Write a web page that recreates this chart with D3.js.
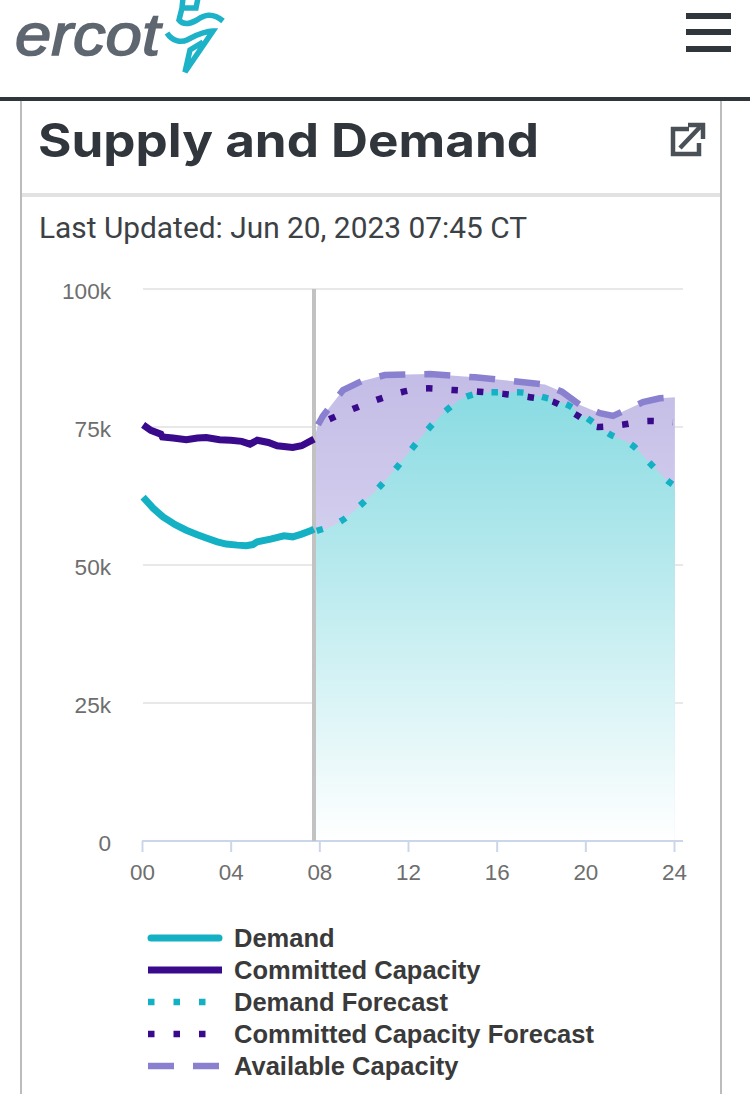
<!DOCTYPE html>
<html>
<head>
<meta charset="utf-8">
<script src="https://cdn.jsdelivr.net/npm/d3@7"></script>
<style>
html,body{margin:0;padding:0;background:#fff;overflow:hidden}
svg{display:block}
</style>
</head>
<body>
<svg id="c" width="750" height="1094"></svg>
<script>
const yTicks = [0, 25, 50, 75, 100];
const xTicks = [0, 4, 8, 12, 16, 20, 24];
const nowHour = 7.76;

const demandHours = [0.05,0.5,0.95,1.5,2,2.5,2.9,3.4,3.8,4.3,4.7,5,5.2,5.8,6.4,6.8,7.2,7.66,7.76];
const demandValues = [62.3,60.3,58.7,57.3,56.3,55.5,54.9,54.2,53.8,53.6,53.5,53.7,54.2,54.7,55.3,55.1,55.6,56.3,56.5];

const committedHours = [0.05,0.4,0.85,0.92,1.4,2,2.5,2.9,3.5,4,4.5,4.87,5.2,5.7,6.1,6.8,7.2,7.76];
const committedValues = [75.4,74.4,73.7,73.2,73.0,72.7,73.0,73.1,72.7,72.6,72.4,71.9,72.6,72.2,71.6,71.3,71.6,72.8];

const demandAreaHours = [7.76,7.88,9.0,9.9,10.7,11.5,12.2,12.95,13.75,14.7,15.8,16.95,18.1,19.2,20.15,21.1,22.15,22.95,23.8,24.04];
const demandAreaValues = [56.4,56.2,58,61,64.1,67.7,71.2,74.8,78.1,80.6,81.3,81.3,80.4,79,76.4,73.7,71.6,68.3,65,64.3];

const committedForecastHours = [8.45,9.6,10.65,11.7,12.9,14.0,15.2,16.3,17.5,18.6,19.6,20.6,21.65,22.85,23.95];
const committedForecastValues = [76.4,78.4,80,81.3,82,81.7,81.4,81,80.4,79.5,77.2,75,75.4,76.1,75.9];

const availableHours = [7.76,7.94,8.16,9.07,9.9,10.96,12.99,15.02,17,18.18,18.94,19.76,20.66,21.25,22.6,23.36,24.04];
const availableValues = [72.8,75.4,77,81.7,83.3,84.4,84.6,84,83.2,82.7,81.4,79,77.5,77.0,79.5,80.2,80.4];

const legendLabels = ["Demand","Committed Capacity","Demand Forecast","Committed Capacity Forecast","Available Capacity"];

const teal = "#14b1c4", indigo = "#3a0a8c", lavender = "#8a80d0";

const svg = d3.select("#c");
const x = d3.scaleLinear().domain([0, 24.406]).range([142, 683]);
const y = d3.scaleLinear().domain([0, 100]).range([841, 289]);

const zip = (h, v) => h.map((d, i) => [d, v[i]]);
const lineGen = d3.line().x(d => x(d[0])).y(d => y(d[1]));
const smooth = d3.line().x(d => x(d[0])).y(d => y(d[1])).curve(d3.curveMonotoneX);
const areaGen = d3.area().x(d => x(d[0])).y0(y(0)).y1(d => y(d[1])).curve(d3.curveMonotoneX);
const areaLinear = d3.area().x(d => x(d[0])).y0(y(0)).y1(d => y(d[1]));

/* page chrome */
svg.append("rect").attr("x",20).attr("y",100).attr("width",2).attr("height",994).attr("fill","#bcbcbc");
svg.append("rect").attr("x",720).attr("y",100).attr("width",2).attr("height",994).attr("fill","#bcbcbc");
svg.append("rect").attr("x",0).attr("y",97).attr("width",750).attr("height",4).attr("fill","#2f363c");
svg.append("rect").attr("x",22).attr("y",193).attr("width",698).attr("height",4).attr("fill","#e2e2e2");

svg.append("text").text("ercot").attr("x",15).attr("y",55)
  .attr("font-family","Liberation Sans").attr("font-style","italic").attr("font-size",60)
  .attr("stroke","#5e6670").attr("stroke-width",1.6)
  .attr("textLength",145).attr("lengthAdjust","spacingAndGlyphs").attr("fill","#5e6670");
svg.append("path")
  .attr("d","M198,-2 L196,8 L182,8 L179,20 C183,25 190,24 197,20 C204,15 212,12 223,21 M183,-2 L182,8")
  .attr("fill","none").attr("stroke","#1eb2c8").attr("stroke-width",5.5);
svg.append("path")
  .attr("d","M167,33 C172,41 181,43 187,40 C195,36 203,31 213,31 L185,72 L190,50 L203,42")
  .attr("fill","none").attr("stroke","#1eb2c8").attr("stroke-width",5.5).attr("stroke-linejoin","miter");
[13,29,46].forEach(t => svg.append("rect").attr("x",686).attr("y",t).attr("width",45).attr("height",6).attr("fill","#2f363c"));

svg.append("text").text("Supply and Demand").attr("x",38).attr("y",157)
  .attr("font-family","Inter").attr("font-weight",700).attr("font-size",46)
  .attr("textLength",501).attr("lengthAdjust","spacingAndGlyphs").attr("fill","#30363c");
svg.append("path")
  .attr("d","M689,129 H673 V154 H699 V143 M680,148 L700,127 M688,125 H703 V139")
  .attr("fill","none").attr("stroke","#4a5058").attr("stroke-width",4.5);

svg.append("text").text("Last Updated: Jun 20, 2023 07:45 CT").attr("x",39).attr("y",238)
  .attr("font-family","Roboto").attr("font-size",29)
  .attr("textLength",488).attr("lengthAdjust","spacingAndGlyphs").attr("fill","#3c4146");

/* gradients */
const defs = svg.append("defs");
const grad = (id, y1, y2, c1, c2) => {
  const g = defs.append("linearGradient").attr("id",id).attr("gradientUnits","userSpaceOnUse")
    .attr("x1",0).attr("x2",0).attr("y1",y1).attr("y2",y2);
  g.append("stop").attr("offset",0).attr("stop-color",c1);
  g.append("stop").attr("offset",1).attr("stop-color",c2);
};
grad("gPurple", y(85), y(55), "#c3bce6", "#d3cfee");
grad("gTeal", y(82), y(0), "#88dbe2", "#ffffff");

/* y axis and grid */
const yAxis = d3.axisLeft(y).tickValues(yTicks).tickSize(0).tickPadding(31)
  .tickFormat(d => d === 0 ? "0" : d + "k");
const gy = svg.append("g").attr("transform", `translate(${x(0)},0)`).call(yAxis);
gy.select(".domain").remove();
gy.selectAll("text").attr("font-family","Liberation Sans").attr("font-size",22.6).attr("fill","#6e6e6e").attr("dy","9px");
svg.append("g").selectAll("line").data(yTicks.filter(d => d > 0)).join("line")
  .attr("x1",x(0)+1).attr("x2",x.range()[1]).attr("y1",d => y(d)).attr("y2",d => y(d))
  .attr("stroke","#e8e8e8").attr("stroke-width",2);

/* areas */
svg.append("path").datum(zip(availableHours, availableValues)).attr("d",areaLinear).attr("fill","url(#gPurple)");
svg.append("path").datum(zip(demandAreaHours, demandAreaValues)).attr("d",areaGen).attr("fill","url(#gTeal)");

/* x axis */
const xAxis = d3.axisBottom(x).tickValues(xTicks).tickSize(11).tickPadding(12)
  .tickFormat(d => String(d).padStart(2,"0"));
const gx = svg.append("g").attr("transform",`translate(0,${y(0)})`).call(xAxis);
gx.select(".domain").attr("stroke","#ccd6eb").attr("stroke-width",2).attr("d",`M${x.range()[0]},0H${x.range()[1]}`);
gx.selectAll("line").attr("stroke","#ccd6eb").attr("stroke-width",2);
gx.selectAll("text").attr("font-family","Liberation Sans").attr("font-size",22.4).attr("fill","#6e6e6e");

/* current time line */
svg.append("line").attr("x1",x(nowHour)).attr("x2",x(nowHour)).attr("y1",y(100)).attr("y2",y(0))
  .attr("stroke","#c2c2c2").attr("stroke-width",4);

/* lines */
svg.append("path").datum(zip(availableHours, availableValues).slice(1)).attr("d",lineGen)
  .attr("fill","none").attr("stroke",lavender).attr("stroke-width",6.5).attr("stroke-dasharray","26 19").attr("stroke-dashoffset",8);
svg.append("path").datum(zip(committedForecastHours, committedForecastValues)).attr("d",smooth)
  .attr("fill","none").attr("stroke",indigo).attr("stroke-width",6.5).attr("stroke-dasharray","6.5 19");
svg.append("path").datum(zip(demandAreaHours, demandAreaValues).slice(1)).attr("d",smooth)
  .attr("fill","none").attr("stroke",teal).attr("stroke-width",6.5).attr("stroke-dasharray","6.5 19");
svg.append("path").datum(zip(committedHours, committedValues)).attr("d",lineGen)
  .attr("fill","none").attr("stroke",indigo).attr("stroke-width",7);
svg.append("path").datum(zip(demandHours, demandValues)).attr("d",lineGen)
  .attr("fill","none").attr("stroke",teal).attr("stroke-width",7);

/* legend */
const legendStyles = [
  {c:teal, w:7, dash:null, cap:"round"},
  {c:indigo, w:7, dash:null, cap:"butt"},
  {c:teal, w:6.5, dash:"6.5 19", cap:"butt"},
  {c:indigo, w:6.5, dash:"6.5 19", cap:"butt"},
  {c:lavender, w:6.5, dash:"26 19", cap:"butt"}
];
const lg = svg.append("g").selectAll("g").data(legendLabels).join("g")
  .attr("transform",(d,i) => `translate(0,${938 + i*32})`);
lg.append("line").attr("x1",(d,i)=> i===0 ? 151 : 148).attr("x2",(d,i)=> i===0 ? 219 : 222)
  .attr("stroke",(d,i)=>legendStyles[i].c).attr("stroke-width",(d,i)=>legendStyles[i].w)
  .attr("stroke-linecap",(d,i)=>legendStyles[i].cap)
  .attr("stroke-dasharray",(d,i)=>legendStyles[i].dash);
lg.append("text").text(d=>d).attr("x",234).attr("y",9)
  .attr("font-family","Liberation Sans").attr("font-weight",700).attr("font-size",25.5).attr("fill","#3a3a3a");
</script>
</body>
</html>
